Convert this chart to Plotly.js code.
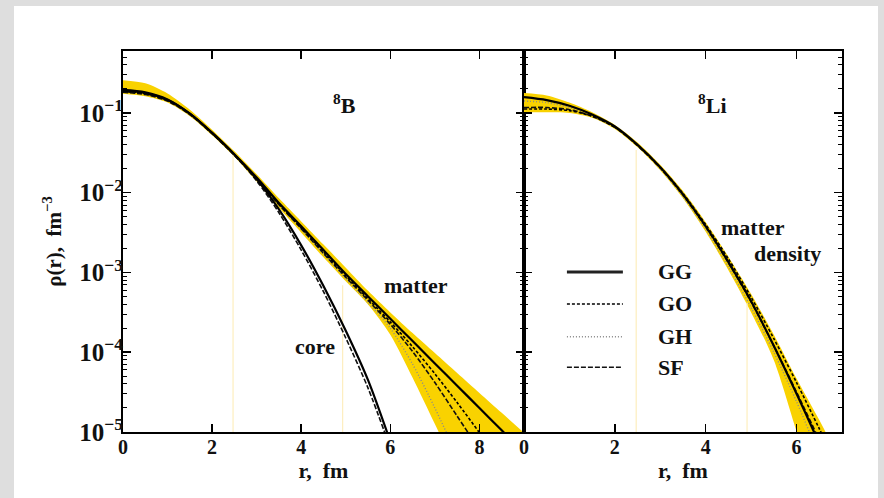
<!DOCTYPE html>
<html><head><meta charset="utf-8">
<script src="https://cdn.plot.ly/plotly-3.0.1.min.js"></script>
<style>
html,body{margin:0;padding:0;background:#dedede;width:884px;height:498px;overflow:hidden}
#plot{position:absolute;left:14px;top:6px;width:864px;height:492px;background:#fff}
</style></head><body><div id="plot"></div>
<script>
// ---------- 8B (left panel) ----------
const rB = [0,0.5,1,1.5,2,2.5,3,3.5,4,4.5,5,5.5,6,6.5,7,7.5,8,8.5,9];
const B_GG = [0.195,0.182,0.148,0.098,0.0562,0.0302,0.0155,0.00741,0.0038,0.00191,0.000955,0.000501,0.000263,0.000138,7.24e-5,3.80e-5,2.00e-5,1.05e-5,5.5e-6];
const B_GO = [0.186,0.174,0.145,0.098,0.0562,0.0302,0.0151,0.00724,0.00363,0.00182,0.000912,0.000468,0.00024,0.000117,5.37e-5,2.34e-5,9.8e-6,4e-6,1.6e-6];
const B_SF = [0.182,0.170,0.141,0.0955,0.055,0.0295,0.0148,0.00708,0.00355,0.00174,0.000871,0.000447,0.000224,0.000102,4.17e-5,1.58e-5,6e-6,2.3e-6,9e-7];
const B_GH = [0.190,0.178,0.145,0.0955,0.055,0.0295,0.0148,0.00708,0.00347,0.0017,0.000832,0.000417,0.0002,7.08e-5,2e-5,5e-6,1.2e-6,3e-7,8e-8];
const B_bandHi = [0.257,0.236,0.176,0.11,0.0617,0.0331,0.017,0.00851,0.00437,0.00224,0.00115,0.000589,0.000316,0.000174,9.77e-5,5.5e-5,3.09e-5,1.74e-5,9.8e-6];
const B_bandLo = [0.174,0.162,0.135,0.0912,0.0525,0.0282,0.0138,0.00646,0.00316,0.00155,0.000776,0.000398,0.000166,4.79e-5,1.26e-5,3.2e-6,8e-7,2e-7,5e-8];
const rCore = [0,0.5,1,1.5,2,2.5,3,3.5,4,4.5,5,5.5,6];
const core_GG = [0.19,0.178,0.145,0.098,0.0562,0.0302,0.0148,0.00617,0.00219,0.000676,0.000186,4.47e-5,7.6e-6];
const core_SF = [0.186,0.174,0.143,0.097,0.0555,0.0298,0.0141,0.00562,0.00191,0.000575,0.000151,3.55e-5,6.3e-6];
const B_dropR = [2.47, 4.93];
const B_dropTop = [0.0316, 0.000692];

// ---------- 8Li (right panel) ----------
const rL = [0,0.5,1,1.5,2,2.5,3,3.5,4,4.5,5,5.5,6,6.5,7];
const L_GG = [0.158,0.145,0.123,0.0955,0.0676,0.0398,0.0209,0.00955,0.0038,0.00135,0.000437,0.00012,3.02e-5,7.1e-6,1.5e-6];
const L_GO = [0.112,0.112,0.107,0.0912,0.0661,0.0398,0.0209,0.00977,0.00398,0.00148,0.00049,0.000148,4.17e-5,1.1e-5,2.8e-6];
const L_SF = [0.117,0.117,0.110,0.0912,0.0661,0.0389,0.0204,0.00933,0.00372,0.00132,0.000427,0.00012,3.16e-5,7.9e-6,1.8e-6];
const L_GH = [0.141,0.135,0.117,0.0933,0.0661,0.0389,0.020,0.00891,0.00347,0.00117,0.000363,0.0001,2.4e-5,5e-6,1e-6];
const L_bandHi = [0.178,0.166,0.135,0.102,0.0708,0.0427,0.0224,0.0105,0.00427,0.00158,0.000537,0.000166,4.68e-5,1.41e-5,4e-6];
const L_bandLo = [0.102,0.102,0.100,0.0871,0.0631,0.0372,0.0191,0.00851,0.00324,0.00107,0.000316,7.94e-5,1.02e-5,1.3e-6,2e-7];
const L_dropR = [2.47, 4.91];
const L_dropTop = [0.0344, 0.000417];

const legendNames = ['GG','GO','GH','SF'];

const FONT = 'Liberation Serif, Times New Roman, serif';
const BAND = 'rgb(249,210,0)';
const DROP = 'rgb(253,238,190)';
const styles = {
  GG: {color:'#000', width:2.2, dash:'solid'},
  GO: {color:'#000', width:1.6, dash:'3px,2px'},
  GH: {color:'#8a8a8a', width:1.4, dash:'1px,2px'},
  SF: {color:'#111', width:1.6, dash:'5px,2px'}
};

const traces = [];
function band(x, lo, hi, xa, ya){
  traces.push({x:x, y:lo, xaxis:xa, yaxis:ya, mode:'lines', line:{width:0,color:BAND,shape:'spline',smoothing:0.8}, showlegend:false, hoverinfo:'skip'});
  traces.push({x:x, y:hi, xaxis:xa, yaxis:ya, mode:'lines', fill:'tonexty', fillcolor:BAND, line:{width:0,color:BAND,shape:'spline',smoothing:0.8}, showlegend:false, hoverinfo:'skip'});
}
function drops(rs, tops, xa, ya){
  rs.forEach((r,i)=>traces.push({x:[r,r], y:[1e-6,tops[i]], xaxis:xa, yaxis:ya, mode:'lines', line:{color:DROP,width:1.2}, showlegend:false, hoverinfo:'skip'}));
}
function curve(x, y, name, xa, ya){
  traces.push({x:x, y:y, xaxis:xa, yaxis:ya, mode:'lines', line:Object.assign({shape:'spline', smoothing:0.8}, styles[name]), showlegend:false, name:name});
}
band(rB, B_bandLo, B_bandHi, 'x', 'y');
band(rL, L_bandLo, L_bandHi, 'x2', 'y2');
drops(B_dropR, B_dropTop, 'x', 'y');
drops(L_dropR, L_dropTop, 'x2', 'y2');
curve(rB, B_GH, 'GH', 'x', 'y');
curve(rB, B_SF, 'SF', 'x', 'y');
curve(rB, B_GO, 'GO', 'x', 'y');
curve(rB, B_GG, 'GG', 'x', 'y');
curve(rCore, core_SF, 'SF', 'x', 'y');
curve(rCore, core_GG, 'GG', 'x', 'y');
curve(rL, L_GH, 'GH', 'x2', 'y2');
curve(rL, L_SF, 'SF', 'x2', 'y2');
curve(rL, L_GO, 'GO', 'x2', 'y2');
curve(rL, L_GG, 'GG', 'x2', 'y2');

const tickF = {family:FONT, size:20, color:'#111', weight:'bold'};
const txtF = {family:FONT, size:22, color:'#111', weight:'bold'};
const split = 0.5577;
const xCommon = {ticks:'inside', ticklen:8, tickwidth:1.5, tickcolor:'#000', mirror:'allticks', showline:true, linewidth:2, linecolor:'#000', showgrid:false, zeroline:false, tickfont:tickF, ticklabelstandoff:-4};
const yCommon = {type:'log', range:[-5,-0.223], dtick:1, exponentformat:'power', ticks:'inside', ticklen:8, tickwidth:1.5, tickcolor:'#000', mirror:'allticks', showline:true, linewidth:2, linecolor:'#000', showgrid:false, zeroline:false, tickfont:tickF, ticklabelstandoff:-6,
  minor:{ticks:'inside', ticklen:4, tickwidth:1, tickcolor:'#000', dtick:'D1', showgrid:false}};

const legY = [0.42, 0.336, 0.25, 0.17];
const shapes = [], annotations = [];
legendNames.forEach((n,i)=>{
  shapes.push({type:'line', xref:'x2 domain', yref:'y2 domain', x0:0.135, x1:0.311, y0:legY[i], y1:legY[i], line:{color:n==='GG'?'#222':styles[n].color, width:n==='GG'?2.8:1.6, dash:styles[n].dash}});
  annotations.push({xref:'x2 domain', yref:'y2 domain', x:0.415, y:legY[i], xanchor:'left', yanchor:'middle', text:n, showarrow:false, font:txtF});
});
const lab = (xr, yr, x, y, t) => annotations.push({xref:xr, yref:yr, x:x, y:y, text:t, showarrow:false, xanchor:'center', yanchor:'middle', font:txtF});
lab('x','y',4.98,-0.887,'<sup>8</sup>B');
lab('x','y',6.58,-3.157,'matter');
lab('x','y',4.31,-3.934,'core');
lab('x2','y2',4.14,-0.887,'<sup>8</sup>Li');
lab('x2','y2',5.04,-2.442,'matter');
lab('x2','y2',5.79,-2.768,'density');

const layout = {
  width:864, height:492, paper_bgcolor:'#fff', plot_bgcolor:'#fff',
  margin:{l:109, r:36, t:45, b:66}, showlegend:false,
  font:{family:FONT, size:20, color:'#111', weight:'bold'},
  xaxis:Object.assign({}, xCommon, {domain:[0,split], range:[0,9], tickvals:[0,2,4,6,8], anchor:'y', title:{text:'r,  fm', font:txtF, standoff:2}}),
  xaxis2:Object.assign({}, xCommon, {domain:[split,1], range:[0,7], tickvals:[0,2,4,6], anchor:'y2', title:{text:'r,  fm', font:txtF, standoff:2}}),
  yaxis:Object.assign({}, yCommon, {anchor:'x', title:{text:'ρ(r),  fm<sup>−3</sup>', font:{family:FONT,size:21,weight:'bold'}, standoff:12}}),
  yaxis2:Object.assign({}, yCommon, {anchor:'x2', showticklabels:false}),
  shapes:shapes, annotations:annotations
};
Plotly.newPlot('plot', traces, layout, {displayModeBar:false, staticPlot:true});
</script></body></html>
